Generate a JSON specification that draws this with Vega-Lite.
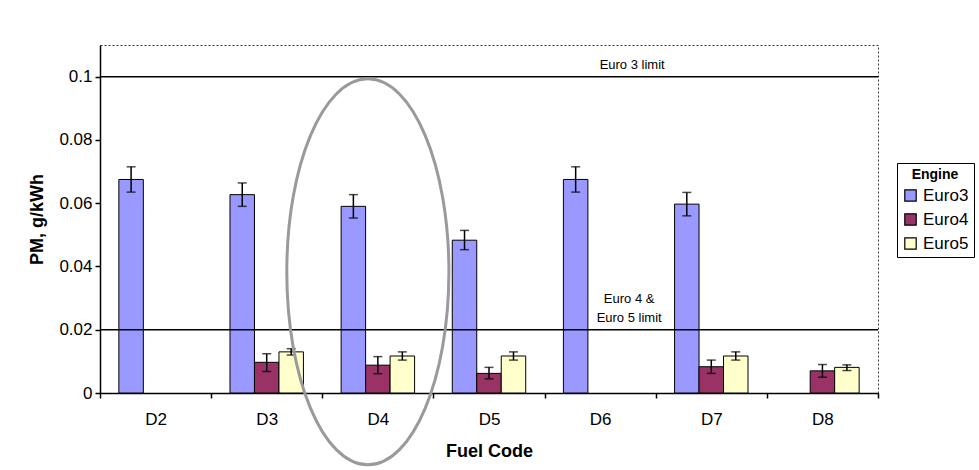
{
  "$schema": "https://vega.github.io/schema/vega-lite/v6.json",
  "autosize": "none",
  "width": 778,
  "height": 348,
  "padding": {"left": 100, "top": 45, "right": 101, "bottom": 77},
  "background": "white",
  "config": {
    "font": "Liberation Sans",
    "view": {"stroke": "#333", "strokeDash": [2, 2], "strokeWidth": 1},
    "axis": {
      "domainColor": "#000", "domainWidth": 1.5, "tickColor": "#000", "tickWidth": 1.5, "tickSize": 5,
      "labelColor": "#000", "labelFont": "Liberation Sans", "labelFontSize": 17,
      "titleFont": "Liberation Sans", "titleFontSize": 18, "titleFontWeight": "bold", "titleColor": "#000",
      "grid": false
    },
    "legend": {
      "titleFont": "Liberation Sans", "titleFontSize": 14, "titleFontWeight": "bold", "titleColor": "#000",
      "labelFont": "Liberation Sans", "labelFontSize": 17, "labelColor": "#000"
    }
  },
  "datasets": {
    "bars": [
      {"Fuel": "D2", "Engine": "Euro3", "PM": 0.0675, "lo": 0.0635, "hi": 0.0715},
      {"Fuel": "D3", "Engine": "Euro3", "PM": 0.0627, "lo": 0.059, "hi": 0.0664},
      {"Fuel": "D3", "Engine": "Euro4", "PM": 0.0097, "lo": 0.0068, "hi": 0.0124},
      {"Fuel": "D3", "Engine": "Euro5", "PM": 0.013, "lo": 0.012, "hi": 0.014},
      {"Fuel": "D4", "Engine": "Euro3", "PM": 0.059, "lo": 0.0553, "hi": 0.0627},
      {"Fuel": "D4", "Engine": "Euro4", "PM": 0.0088, "lo": 0.0061, "hi": 0.0115},
      {"Fuel": "D4", "Engine": "Euro5", "PM": 0.0117, "lo": 0.0104, "hi": 0.013},
      {"Fuel": "D5", "Engine": "Euro3", "PM": 0.0483, "lo": 0.0453, "hi": 0.0514},
      {"Fuel": "D5", "Engine": "Euro4", "PM": 0.0062, "lo": 0.0045, "hi": 0.0081},
      {"Fuel": "D5", "Engine": "Euro5", "PM": 0.0117, "lo": 0.0104, "hi": 0.013},
      {"Fuel": "D6", "Engine": "Euro3", "PM": 0.0675, "lo": 0.0635, "hi": 0.0715},
      {"Fuel": "D7", "Engine": "Euro3", "PM": 0.0597, "lo": 0.056, "hi": 0.0634},
      {"Fuel": "D7", "Engine": "Euro4", "PM": 0.0083, "lo": 0.0062, "hi": 0.0104},
      {"Fuel": "D7", "Engine": "Euro5", "PM": 0.0117, "lo": 0.0104, "hi": 0.013},
      {"Fuel": "D8", "Engine": "Euro4", "PM": 0.007, "lo": 0.005, "hi": 0.009},
      {"Fuel": "D8", "Engine": "Euro5", "PM": 0.0081, "lo": 0.0071, "hi": 0.0089}
    ],
    "limits": [{"limit": 0.1}, {"limit": 0.02}],
    "note3": [{"Fuel": "D6", "yv": 0.1, "label": "Euro 3 limit"}],
    "note45": [{"Fuel": "D6", "yv": 0.02, "label": "Euro 4 &\nEuro 5 limit"}],
    "circle": [{"Fuel": "D4", "yv": 0.0383}]
  },
  "layer": [
    {
      "data": {"name": "bars"},
      "mark": {"type": "bar", "stroke": "#000", "strokeWidth": 1},
      "encoding": {
        "x": {
          "field": "Fuel", "type": "nominal",
          "scale": {"domain": ["D2", "D3", "D4", "D5", "D6", "D7", "D8"], "paddingInner": 0, "paddingOuter": 0},
          "axis": {"title": "Fuel Code", "labelAngle": 0, "tickBand": "extent", "labelPadding": 13, "titlePadding": 15}
        },
        "xOffset": {
          "field": "Engine", "type": "nominal",
          "scale": {"domain": ["Euro3", "Euro4", "Euro5"], "paddingInner": 0, "paddingOuter": 0.77}
        },
        "y": {
          "field": "PM", "type": "quantitative",
          "scale": {"domain": [0, 0.11], "nice": false},
          "axis": {"title": "PM, g/kWh", "values": [0, 0.02, 0.04, 0.06, 0.08, 0.1], "format": "~g", "labelPadding": 3, "titlePadding": 12}
        },
        "color": {
          "field": "Engine", "type": "nominal",
          "scale": {"domain": ["Euro3", "Euro4", "Euro5"], "range": ["#9999FF", "#993366", "#FFFFCC"]},
          "legend": {
            "title": "Engine", "orient": "none", "legendX": 797, "legendY": 118,
            "titleAnchor": "middle", "strokeColor": "#000", "padding": 5,
            "symbolType": "square", "symbolSize": 130, "symbolStrokeColor": "#000", "symbolStrokeWidth": 1.2,
            "rowPadding": 6, "labelOffset": 4
          }
        }
      }
    },
    {
      "data": {"name": "bars"},
      "mark": {"type": "rule", "color": "#000", "strokeWidth": 1.5},
      "encoding": {
        "x": {"field": "Fuel", "type": "nominal"},
        "xOffset": {"field": "Engine", "type": "nominal"},
        "y": {"field": "lo", "type": "quantitative"},
        "y2": {"field": "hi"}
      }
    },
    {
      "data": {"name": "bars"},
      "mark": {"type": "tick", "color": "#000", "thickness": 1.5, "size": 9},
      "encoding": {
        "x": {"field": "Fuel", "type": "nominal"},
        "xOffset": {"field": "Engine", "type": "nominal"},
        "y": {"field": "lo", "type": "quantitative"}
      }
    },
    {
      "data": {"name": "bars"},
      "mark": {"type": "tick", "color": "#000", "thickness": 1.5, "size": 9},
      "encoding": {
        "x": {"field": "Fuel", "type": "nominal"},
        "xOffset": {"field": "Engine", "type": "nominal"},
        "y": {"field": "hi", "type": "quantitative"}
      }
    },
    {
      "data": {"name": "limits"},
      "mark": {"type": "rule", "color": "#000", "strokeWidth": 1.5},
      "encoding": {"y": {"field": "limit", "type": "quantitative"}}
    },
    {
      "data": {"name": "note3"},
      "mark": {"type": "text", "font": "Liberation Sans", "fontSize": 13, "color": "#000", "baseline": "bottom", "align": "center", "dx": 32, "dy": -5},
      "encoding": {
        "x": {"field": "Fuel", "type": "nominal"},
        "y": {"field": "yv", "type": "quantitative"},
        "text": {"field": "label"}
      }
    },
    {
      "data": {"name": "note45"},
      "mark": {"type": "text", "font": "Liberation Sans", "fontSize": 13, "color": "#000", "baseline": "bottom", "align": "center", "dx": 29, "dy": -24, "lineBreak": "\n", "lineHeight": 19},
      "encoding": {
        "x": {"field": "Fuel", "type": "nominal"},
        "y": {"field": "yv", "type": "quantitative"},
        "text": {"field": "label"}
      }
    },
    {
      "data": {"name": "circle"},
      "mark": {
        "type": "point", "filled": false, "stroke": "#9a9a9a", "strokeWidth": 3, "opacity": 1,
        "shape": "M -0.42 0 A 0.42 1 0 1 1 0.42 0 A 0.42 1 0 1 1 -0.42 0 Z",
        "size": 148996, "xOffset": -10
      },
      "encoding": {
        "x": {"field": "Fuel", "type": "nominal"},
        "y": {"field": "yv", "type": "quantitative"}
      }
    }
  ]
}
